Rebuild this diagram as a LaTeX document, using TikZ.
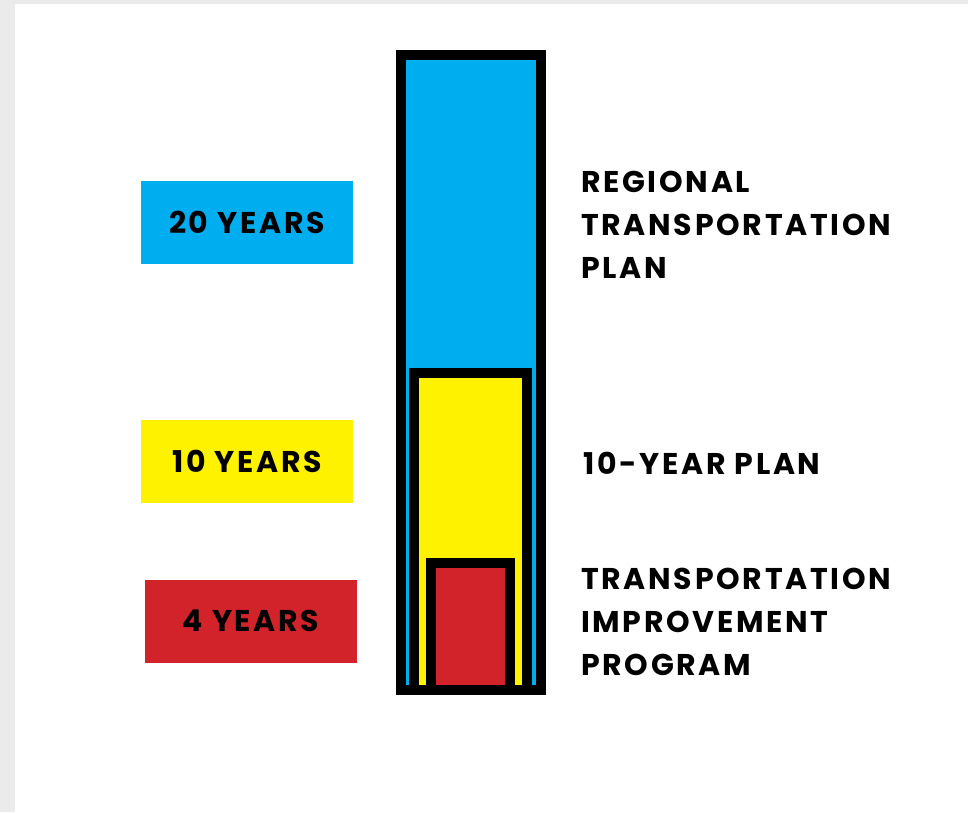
\documentclass[tikz,border=0pt]{standalone}
\usepackage{fontspec}
\setmainfont{Poppins}[LetterSpace=9]
\usetikzlibrary{positioning}

\definecolor{rtpblue}{HTML}{00ADEE}
\definecolor{planyellow}{HTML}{FFF200}
\definecolor{tipred}{HTML}{D2232A}
\definecolor{pagegrey}{HTML}{EBEBEB}

\begin{document}
\begin{tikzpicture}[x=1pt, y=-1pt,
    yearbox/.style={minimum width=212pt, minimum height=83pt, inner sep=0pt, font=\bfseries\fontsize{30}{30}\selectfont},
    plantext/.style={anchor=west, align=left, inner sep=0pt, font=\bfseries\fontsize{30}{43}\selectfont},
    barframe/.style={draw=black, line width=10pt}]
    \useasboundingbox (0,0) rectangle (968,812);
    \fill[pagegrey] (0,0) rectangle (968,812);
    \fill[white] (15,4) rectangle (968,812);

    % nested bars, sharing one bottom edge
    \draw[barframe, fill=rtpblue] (401,55) rectangle (541,690);
    \draw[barframe, fill=planyellow] (414,373) rectangle (527,690);
    \draw[barframe, fill=tipred] (430.5,563) rectangle (510,690);

    \node[yearbox, fill=rtpblue] (twenty) at (247,222.5) {20 YEARS};
    \node[yearbox, fill=planyellow] (ten) at (247,461) {10 YEARS};
    \node[yearbox, fill=tipred] (four) at (251,621) {4 YEARS};

    \node[plantext] (rtp) at (581,225) {REGIONAL\\TRANSPORTATION\\PLAN};
    \node[plantext] (tenplan) at (583,463) {10-YEAR PLAN};
    \node[plantext] (tip) at (581,622) {TRANSPORTATION\\IMPROVEMENT\\PROGRAM};
\end{tikzpicture}
\end{document}
